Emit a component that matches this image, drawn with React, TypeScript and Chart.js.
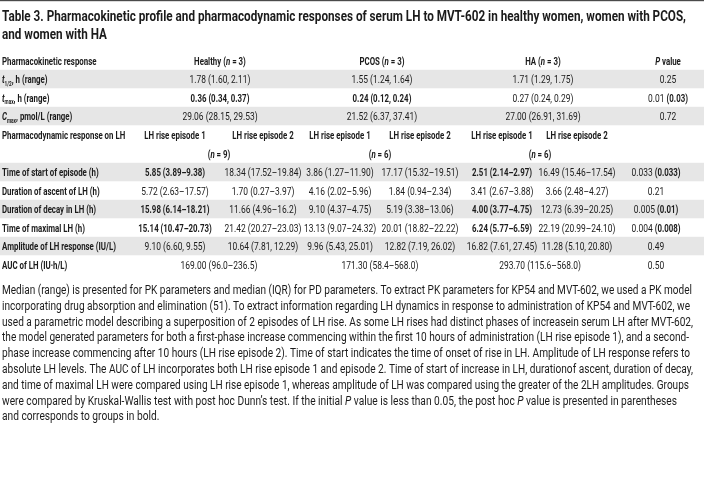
import React, { useEffect, useRef } from "react";
import { Chart, registerables } from "chart.js";
Chart.register(...registerables);

// ---------- DATA ----------
const titleLines = [
  "Table 3. Pharmacokinetic profile and pharmacodynamic responses of serum LH to MVT-602 in healthy women, women with PCOS,",
  "and women with HA",
];

const pkHeaderLabel = "Pharmacokinetic response";
const pkGroups = ["Healthy ({i:n} = 3)", "PCOS ({i:n} = 3)", "HA ({i:n} = 3)"];
const pValueHeader = "{i:P} value";
const pkRowLabels = ["{i:t}{s:1/2}, h (range)", "{i:t}{s:max}, h (range)", "{i:C}{s:max}, pmol/L (range)"];
const pkHealthy = ["1.78 (1.60, 2.11)", "{b:0.36 (0.34, 0.37)}", "29.06 (28.15, 29.53)"];
const pkPCOS = ["1.55 (1.24, 1.64)", "{b:0.24 (0.12, 0.24)}", "21.52 (6.37, 37.41)"];
const pkHA = ["1.71 (1.29, 1.75)", "0.27 (0.24, 0.29)", "27.00 (26.91, 31.69)"];
const pkP = ["0.25", "0.01 {b:(0.03)}", "0.72"];

const pdHeaderLabel = "Pharmacodynamic response on LH";
const pdEpisodes = ["LH rise episode 1", "LH rise episode 2"];
const pdGroupN = ["({i:n} = 9)", "({i:n} = 6)", "({i:n} = 6)"];
const pdRowLabels = [
  "Time of start of episode (h)",
  "Duration of ascent of LH (h)",
  "Duration of decay in LH (h)",
  "Time of maximal LH (h)",
  "Amplitude of LH response (IU/L)",
  "AUC of LH (IU·h/L)",
];
const pdHealthyEp1 = ["{b:5.85 (3.89–9.38)}", "5.72 (2.63–17.57)", "{b:15.98 (6.14–18.21)}", "{b:15.14 (10.47–20.73)}", "9.10 (6.60, 9.55)"];
const pdHealthyEp2 = ["18.34 (17.52–19.84)", "1.70 (0.27–3.97)", "11.66 (4.96–16.2)", "21.42 (20.27–23.03)", "10.64 (7.81, 12.29)"];
const pdPCOSEp1 = ["3.86 (1.27–11.90)", "4.16 (2.02–5.96)", "9.10 (4.37–4.75)", "13.13 (9.07–24.32)", "9.96 (5.43, 25.01)"];
const pdPCOSEp2 = ["17.17 (15.32–19.51)", "1.84 (0.94–2.34)", "5.19 (3.38–13.06)", "20.01 (18.82–22.22)", "12.82 (7.19, 26.02)"];
const pdHAEp1 = ["{b:2.51 (2.14–2.97)}", "3.41 (2.67–3.88)", "{b:4.00 (3.77–4.75)}", "{b:6.24 (5.77–6.59)}", "16.82 (7.61, 27.45)"];
const pdHAEp2 = ["16.49 (15.46–17.54)", "3.66 (2.48–4.27)", "12.73 (6.39–20.25)", "22.19 (20.99–24.10)", "11.28 (5.10, 20.80)"];
const pdAUC = ["169.00 (96.0–236.5)", "171.30 (58.4–568.0)", "293.70 (115.6–568.0)"];
const pdP = ["0.033 {b:(0.033)}", "0.21", "0.005 {b:(0.01)}", "0.004 {b:(0.008)}", "0.49", "0.50"];

const footnoteLines = [
  "Median (range) is presented for PK parameters and median (IQR) for PD parameters. To extract PK parameters for KP54 and MVT-602, we used a PK model",
  "incorporating drug absorption and elimination (51). To extract information regarding LH dynamics in response to administration of KP54 and MVT-602, we",
  "used a parametric model describing a superposition of 2 episodes of LH rise. As some LH rises had distinct phases of increasein serum LH after MVT-602,",
  "the model generated parameters for both a first-phase increase commencing within the first 10 hours of administration (LH rise episode 1), and a second-",
  "phase increase commencing after 10 hours (LH rise episode 2). Time of start indicates the time of onset of rise in LH. Amplitude of LH response refers to",
  "absolute LH levels. The AUC of LH incorporates both LH rise episode 1 and episode 2. Time of start of increase in LH, durationof ascent, duration of decay,",
  "and time of maximal LH were compared using LH rise episode 1, whereas amplitude of LH was compared using the greater of the 2LH amplitudes. Groups",
  "were compared by Kruskal-Wallis test with post hoc Dunn’s test. If the initial {i:P} value is less than 0.05, the post hoc {i:P} value is presented in parentheses",
  "and corresponds to groups in bold.",
];

// ---------- LAYOUT / STYLE ----------
const W = 704;
const H = 483;
const FAMILY = "Roboto, 'Noto Sans', sans-serif";
const TEXT = "#1b1b1b";
const STRIPE = "#e6e6e6";
const L = {
  titleBase: [21, 38.5],
  titleSize: 14.5,
  titleRight: 686,
  tableSize: 11.4,
  sxRegular: 0.74,
  sxBold: 0.69,
  labelX: 2,
  pkHeaderBase: 65,
  pkRowBase0: 83,
  rowH: 18.5,
  pdHeaderBase: 139,
  pdNBase: 157.5,
  pdRowBase0: 176,
  stripeUp: 13.2,
  pkCols: [220, 382, 543, 668],
  pdCols: [175, 263, 340, 420, 502, 577, 656],
  pdGroupCols: [219, 380, 540],
  noteBase0: 294,
  noteH: 15.8,
  noteSize: 12.5,
  noteRight: [692, 690, 693, 689, 690, 693, 689, 677],
};

type Seg = { t: string; b?: boolean; i?: boolean; s?: boolean };

function parseRich(str: string, bold: boolean): Seg[] {
  const out: Seg[] = [];
  const re = /\{(bi|b|i|s):([^}]*)\}/g;
  let last = 0;
  let m: RegExpExecArray | null;
  while ((m = re.exec(str))) {
    if (m.index > last) out.push({ t: str.slice(last, m.index), b: bold });
    const k = m[1];
    out.push({ t: m[2], b: bold || k.includes("b"), i: k.includes("i"), s: k === "s" });
    last = re.lastIndex;
  }
  if (last < str.length) out.push({ t: str.slice(last), b: bold });
  return out;
}

function fontOf(sg: Seg, size: number) {
  const sz = sg.s ? size * 0.6 : size;
  return `${sg.i ? "italic " : ""}${sg.b ? "bold " : ""}${sz}px ${FAMILY}`;
}

type RichOpts = {
  size: number;
  bold?: boolean;
  align?: "left" | "center" | "right";
  sx?: number;
  sxBold?: number;
  fit?: number;
};

function drawRich(ctx: CanvasRenderingContext2D, str: string, x: number, y: number, o: RichOpts) {
  const segs = parseRich(str, !!o.bold);
  const base = o.sx ?? 1;
  const segSx = segs.map((sg) => (o.fit ? 1 : sg.b && o.sxBold ? o.sxBold : base));
  const widths = segs.map((sg, k) => {
    ctx.font = fontOf(sg, o.size);
    return ctx.measureText(sg.t).width * segSx[k];
  });
  const nat = widths.reduce((a, b) => a + b, 0);
  const f = o.fit ? o.fit / nat : 1;
  const total = nat * f;
  const start = o.align === "center" ? x - total / 2 : o.align === "right" ? x - total : x;
  let px = start;
  segs.forEach((sg, k) => {
    ctx.save();
    ctx.translate(px, y);
    ctx.scale(segSx[k] * f, 1);
    ctx.font = fontOf(sg, o.size);
    ctx.fillText(sg.t, 0, sg.s ? o.size * 0.25 : 0);
    ctx.restore();
    px += widths[k] * f;
  });
  return f;
}

const tablePlugin = {
  id: "tablePlugin",
  beforeDraw(chart: any) {
    const ctx: CanvasRenderingContext2D = chart.ctx;
    const xs = chart.scales.x;
    const ys = chart.scales.y;
    const X = (v: number) => xs.getPixelForValue(v);
    const Y = (v: number) => ys.getPixelForValue(v);
    ctx.save();
    ctx.fillStyle = "#ffffff";
    ctx.fillRect(X(0), Y(0), X(W) - X(0), Y(H) - Y(0));
    // top rule
    ctx.fillStyle = "#4a4a4a";
    ctx.fillRect(X(0), Y(0), X(W) - X(0), Y(1.2) - Y(0));

    // stripes
    ctx.fillStyle = STRIPE;
    const stripe = (b: number) =>
      ctx.fillRect(X(0), Y(b - L.stripeUp), X(W) - X(0), Y(b - L.stripeUp + L.rowH) - Y(b - L.stripeUp));
    pkRowLabels.forEach((_, r) => {
      if (r % 2 === 0) stripe(L.pkRowBase0 + r * L.rowH);
    });
    pdRowLabels.forEach((_, r) => {
      if (r % 2 === 0) stripe(L.pdRowBase0 + r * L.rowH);
    });

    ctx.fillStyle = TEXT;
    ctx.textBaseline = "alphabetic";

    // title
    const tf = drawRich(ctx, titleLines[0], X(L.labelX), Y(L.titleBase[0]), {
      size: L.titleSize,
      bold: true,
      fit: X(L.titleRight) - X(L.labelX),
    });
    drawRich(ctx, titleLines[1], X(L.labelX), Y(L.titleBase[1]), { size: L.titleSize, bold: true, sx: tf });

    const T: RichOpts = { size: L.tableSize, sx: L.sxRegular, sxBold: L.sxBold };
    // PK header
    drawRich(ctx, pkHeaderLabel, X(L.labelX), Y(L.pkHeaderBase), { ...T, bold: true });
    pkGroups.forEach((g, k) =>
      drawRich(ctx, g, X(L.pkCols[k]), Y(L.pkHeaderBase), { ...T, bold: true, align: "center" })
    );
    drawRich(ctx, pValueHeader, X(L.pkCols[3]), Y(L.pkHeaderBase), { ...T, bold: true, align: "center" });

    const pkCols = [pkHealthy, pkPCOS, pkHA, pkP];
    pkRowLabels.forEach((lab, r) => {
      const b = Y(L.pkRowBase0 + r * L.rowH);
      drawRich(ctx, lab, X(L.labelX), b, { ...T, bold: true });
      pkCols.forEach((col, c) => drawRich(ctx, col[r], X(L.pkCols[c]), b, { ...T, align: "center" }));
    });

    // PD header
    drawRich(ctx, pdHeaderLabel, X(L.labelX), Y(L.pdHeaderBase), { ...T, bold: true });
    for (let c = 0; c < 6; c++) {
      drawRich(ctx, pdEpisodes[c % 2], X(L.pdCols[c]), Y(L.pdHeaderBase), { ...T, bold: true, align: "center" });
    }
    pdGroupN.forEach((g, k) =>
      drawRich(ctx, g, X(L.pdGroupCols[k]), Y(L.pdNBase), { ...T, bold: true, align: "center" })
    );

    const pdCols = [pdHealthyEp1, pdHealthyEp2, pdPCOSEp1, pdPCOSEp2, pdHAEp1, pdHAEp2];
    pdRowLabels.forEach((lab, r) => {
      const b = Y(L.pdRowBase0 + r * L.rowH);
      drawRich(ctx, lab, X(L.labelX), b, { ...T, bold: true });
      if (r < pdCols[0].length) {
        pdCols.forEach((col, c) => drawRich(ctx, col[r], X(L.pdCols[c]), b, { ...T, align: "center" }));
      } else {
        pdAUC.forEach((v, k) => drawRich(ctx, v, X(L.pdGroupCols[k]), b, { ...T, align: "center" }));
      }
      drawRich(ctx, pdP[r], X(L.pdCols[6]), b, { ...T, align: "center" });
    });

    // footnote
    let lastF = 0.9;
    footnoteLines.forEach((line, k) => {
      const b = Y(L.noteBase0 + k * L.noteH);
      if (k < L.noteRight.length) {
        lastF = drawRich(ctx, line, X(L.labelX), b, { size: L.noteSize, fit: X(L.noteRight[k]) - X(L.labelX) });
      } else {
        drawRich(ctx, line, X(L.labelX), b, { size: L.noteSize, sx: lastF });
      }
    });
    ctx.restore();
  },
};

export default function App() {
  const ref = useRef<HTMLCanvasElement | null>(null);
  useEffect(() => {
    if (!ref.current) return;
    const chart = new Chart(ref.current, {
      type: "scatter",
      data: { datasets: [] },
      options: {
        animation: false,
        responsive: false,
        maintainAspectRatio: false,
        devicePixelRatio: 1,
        layout: { padding: 0 },
        plugins: { legend: { display: false }, tooltip: { enabled: false }, title: { display: false } },
        scales: {
          x: { type: "linear", min: 0, max: W, display: false },
          y: { type: "linear", min: 0, max: H, reverse: true, display: false },
        },
      },
      plugins: [tablePlugin],
    });
    return () => chart.destroy();
  }, []);
  return (
    <div style={{ position: "fixed", left: 0, top: 0, width: W, height: H, background: "#fff" }}>
      <canvas ref={ref} width={W} height={H} style={{ display: "block", width: W, height: H }} />
    </div>
  );
}
